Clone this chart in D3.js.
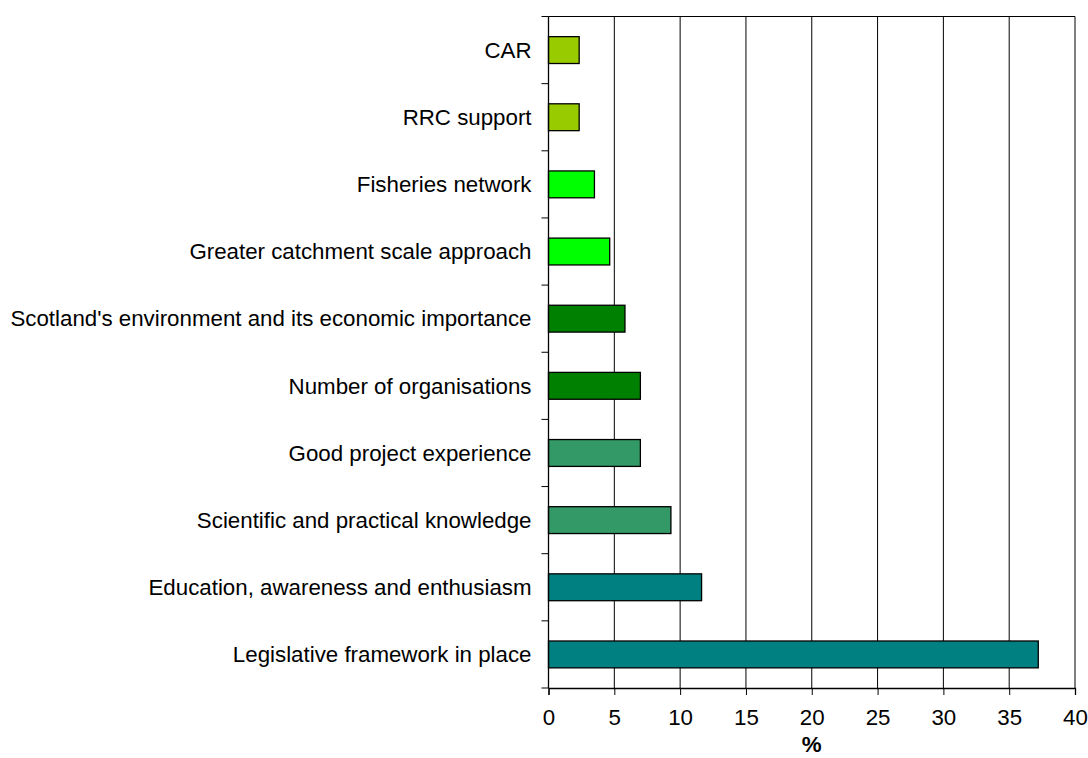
<!DOCTYPE html>
<html>
<head>
<meta charset="utf-8">
<script src="https://cdn.jsdelivr.net/npm/d3@7"></script>
<style>
  html, body { margin: 0; padding: 0; background: #fff; }
  svg { display: block; font-family: Arial, "Liberation Sans", sans-serif; }
</style>
</head>
<body>
<svg id="chart" width="1088" height="758"></svg>
<script>
// Strengths cited (percentage of responses), listed top to bottom
const categories = [
  "CAR",
  "RRC support",
  "Fisheries network",
  "Greater catchment scale approach",
  "Scotland's environment and its economic importance",
  "Number of organisations",
  "Good project experience",
  "Scientific and practical knowledge",
  "Education, awareness and enthusiasm",
  "Legislative framework in place"
];
const values = [2.33, 2.33, 3.49, 4.65, 5.81, 6.98, 6.98, 9.30, 11.63, 37.21];
const barColors = [
  "#99CC00", "#99CC00",
  "#00FF00", "#00FF00",
  "#008000", "#008000",
  "#339966", "#339966",
  "#008080", "#008080"
];
const xTicks = [0, 5, 10, 15, 20, 25, 30, 35, 40];
const xTitle = "%";

const svg = d3.select("#chart");
const margin = { left: 548.5, right: 1075, top: 16.5, bottom: 688 };
const fontSize = 22.3;

const x = d3.scaleLinear().domain([0, 40]).range([margin.left, margin.right]);
const y = d3.scaleBand()
  .domain(categories)
  .range([margin.top, margin.bottom])
  .paddingInner(0.6)
  .paddingOuter(0.3);

// Plot frame and vertical gridlines
const grid = svg.append("g");
grid.selectAll("line")
  .data(xTicks.slice(1))
  .join("line")
  .attr("x1", d => x(d)).attr("x2", d => x(d))
  .attr("y1", margin.top).attr("y2", margin.bottom)
  .attr("stroke", "#000").attr("stroke-width", 1);
grid.append("line")
  .attr("x1", margin.left).attr("x2", margin.right)
  .attr("y1", margin.top).attr("y2", margin.top)
  .attr("stroke", "#000").attr("stroke-width", 1);

// Bars
svg.append("g")
  .selectAll("rect")
  .data(categories)
  .join("rect")
  .attr("x", x(0))
  .attr("y", d => y(d))
  .attr("width", (d, i) => x(values[i]) - x(0))
  .attr("height", y.bandwidth())
  .attr("fill", (d, i) => barColors[i])
  .attr("stroke", "#000")
  .attr("stroke-width", 1.3);

// Category axis: ticks sit on band boundaries
const yAxis = svg.append("g");
yAxis.append("line")
  .attr("x1", margin.left).attr("x2", margin.left)
  .attr("y1", margin.top).attr("y2", margin.bottom)
  .attr("stroke", "#000").attr("stroke-width", 1.3);
yAxis.selectAll("line.tick")
  .data(d3.range(categories.length + 1))
  .join("line")
  .attr("class", "tick")
  .attr("x1", margin.left - 7).attr("x2", margin.left)
  .attr("y1", i => margin.top + y.step() * i)
  .attr("y2", i => margin.top + y.step() * i)
  .attr("stroke", "#000").attr("stroke-width", 1);
yAxis.selectAll("text")
  .data(categories)
  .join("text")
  .attr("x", margin.left - 17)
  .attr("y", d => y(d) + y.bandwidth() / 2)
  .attr("dy", "0.35em")
  .attr("text-anchor", "end")
  .attr("font-size", fontSize)
  .attr("fill", "#000")
  .text(d => d);

// Value axis
const xAxis = svg.append("g")
  .attr("transform", `translate(0,${margin.bottom})`)
  .call(d3.axisBottom(x).tickValues(xTicks).tickSize(7).tickPadding(14).tickFormat(d3.format("d")));
xAxis.select(".domain").attr("stroke", "#000").attr("stroke-width", 1.3);
xAxis.selectAll(".tick line").attr("stroke", "#000");
xAxis.selectAll(".tick text")
  .attr("font-size", fontSize)
  .attr("font-family", "Arial, 'Liberation Sans', sans-serif")
  .attr("fill", "#000");

svg.append("text")
  .attr("x", x(20))
  .attr("y", 752)
  .attr("text-anchor", "middle")
  .attr("font-size", fontSize)
  .attr("font-weight", "bold")
  .attr("fill", "#000")
  .text(xTitle);
</script>
</body>
</html>
